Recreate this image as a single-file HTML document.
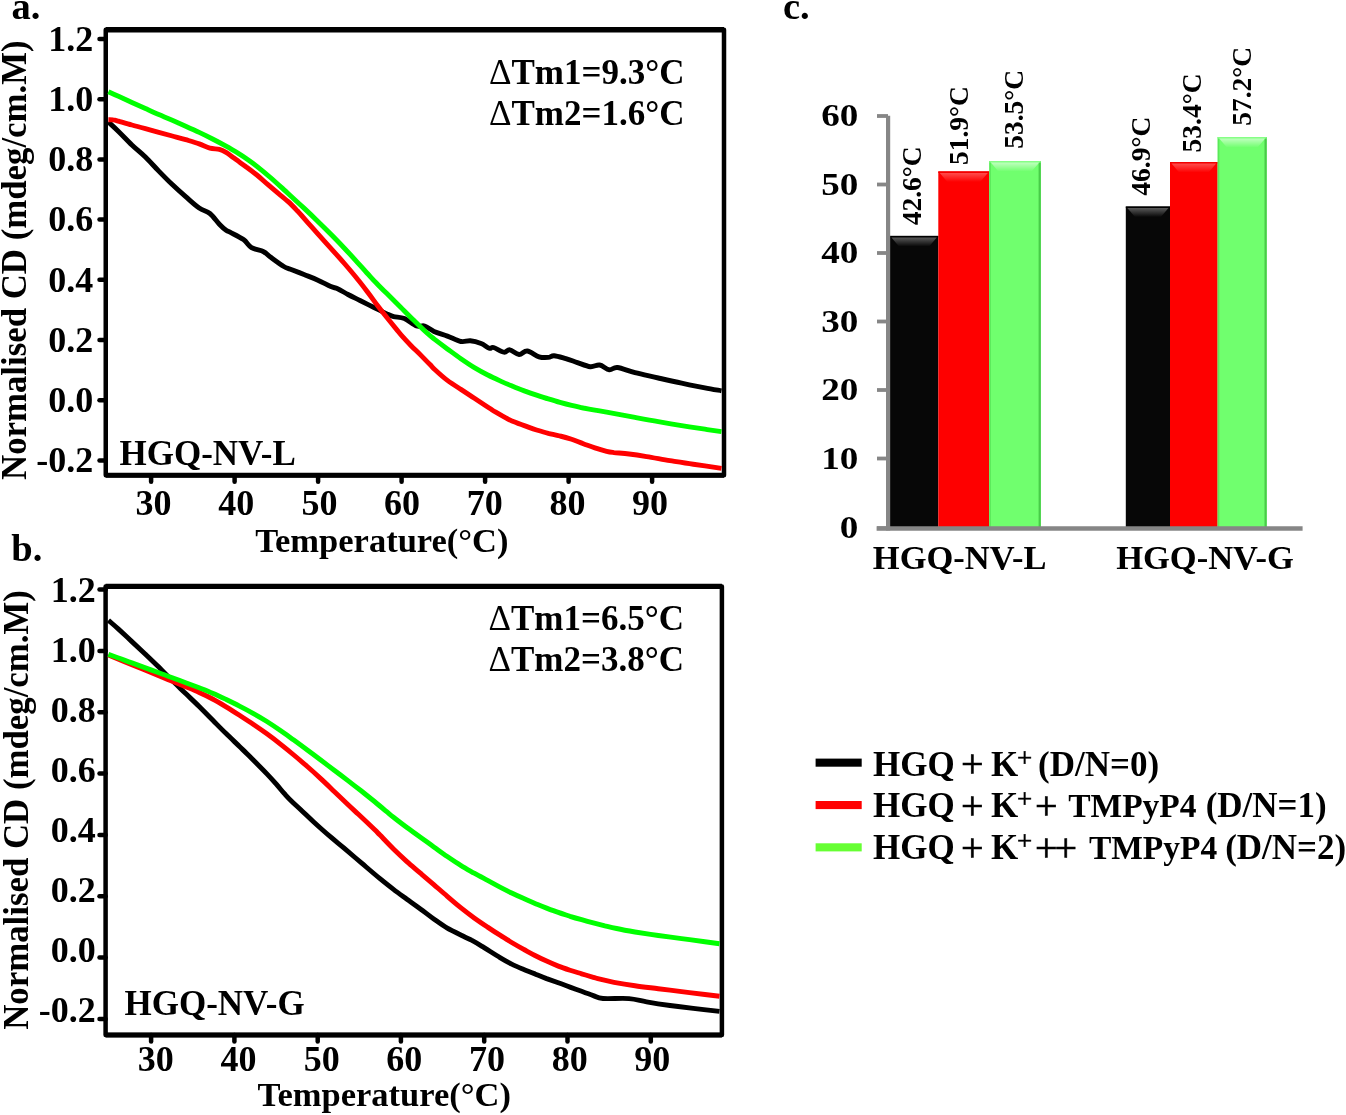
<!DOCTYPE html>
<html><head><meta charset="utf-8"><style>
html,body{margin:0;padding:0;background:#fff;}
svg{display:block;will-change:transform;}
</style></head><body>
<svg width="1346" height="1115" viewBox="0 0 1346 1115">
<rect x="0" y="0" width="1346" height="1115" fill="#fff"/>
<rect x="105.75" y="29.75" width="618.25" height="445.5" fill="none" stroke="#000" stroke-width="4.5" stroke-linejoin="round"/>
<line x1="105.75" y1="29.75" x2="724" y2="29.75" stroke="#000" stroke-width="5.3"/>
<line x1="105.75" y1="475.25" x2="724" y2="475.25" stroke="#000" stroke-width="5.0"/>
<line x1="99.5" y1="460.4" x2="105.75" y2="460.4" stroke="#000" stroke-width="4.5" stroke-linecap="round"/>
<text x="93.2" y="472.1" text-anchor="end" font-size="36" font-family="Liberation Serif" font-weight="bold">-0.2</text>
<line x1="99.5" y1="400.2" x2="105.75" y2="400.2" stroke="#000" stroke-width="4.5" stroke-linecap="round"/>
<text x="93.2" y="411.9" text-anchor="end" font-size="36" font-family="Liberation Serif" font-weight="bold">0.0</text>
<line x1="99.5" y1="340.0" x2="105.75" y2="340.0" stroke="#000" stroke-width="4.5" stroke-linecap="round"/>
<text x="93.2" y="351.7" text-anchor="end" font-size="36" font-family="Liberation Serif" font-weight="bold">0.2</text>
<line x1="99.5" y1="279.8" x2="105.75" y2="279.8" stroke="#000" stroke-width="4.5" stroke-linecap="round"/>
<text x="93.2" y="291.5" text-anchor="end" font-size="36" font-family="Liberation Serif" font-weight="bold">0.4</text>
<line x1="99.5" y1="219.6" x2="105.75" y2="219.6" stroke="#000" stroke-width="4.5" stroke-linecap="round"/>
<text x="93.2" y="231.3" text-anchor="end" font-size="36" font-family="Liberation Serif" font-weight="bold">0.6</text>
<line x1="99.5" y1="159.4" x2="105.75" y2="159.4" stroke="#000" stroke-width="4.5" stroke-linecap="round"/>
<text x="93.2" y="171.1" text-anchor="end" font-size="36" font-family="Liberation Serif" font-weight="bold">0.8</text>
<line x1="99.5" y1="99.2" x2="105.75" y2="99.2" stroke="#000" stroke-width="4.5" stroke-linecap="round"/>
<text x="93.2" y="110.9" text-anchor="end" font-size="36" font-family="Liberation Serif" font-weight="bold">1.0</text>
<line x1="99.5" y1="39.0" x2="105.75" y2="39.0" stroke="#000" stroke-width="4.5" stroke-linecap="round"/>
<text x="93.2" y="50.7" text-anchor="end" font-size="36" font-family="Liberation Serif" font-weight="bold">1.2</text>
<line x1="151.1" y1="475.25" x2="151.1" y2="481.75" stroke="#000" stroke-width="4.5" stroke-linecap="round"/>
<text x="153.5" y="515" text-anchor="middle" font-size="36" font-family="Liberation Serif" font-weight="bold">30</text>
<line x1="234.6" y1="475.25" x2="234.6" y2="481.75" stroke="#000" stroke-width="4.5" stroke-linecap="round"/>
<text x="236.2" y="515" text-anchor="middle" font-size="36" font-family="Liberation Serif" font-weight="bold">40</text>
<line x1="318.1" y1="475.25" x2="318.1" y2="481.75" stroke="#000" stroke-width="4.5" stroke-linecap="round"/>
<text x="319.4" y="515" text-anchor="middle" font-size="36" font-family="Liberation Serif" font-weight="bold">50</text>
<line x1="401.6" y1="475.25" x2="401.6" y2="481.75" stroke="#000" stroke-width="4.5" stroke-linecap="round"/>
<text x="402.0" y="515" text-anchor="middle" font-size="36" font-family="Liberation Serif" font-weight="bold">60</text>
<line x1="485.1" y1="475.25" x2="485.1" y2="481.75" stroke="#000" stroke-width="4.5" stroke-linecap="round"/>
<text x="484.7" y="515" text-anchor="middle" font-size="36" font-family="Liberation Serif" font-weight="bold">70</text>
<line x1="568.6" y1="475.25" x2="568.6" y2="481.75" stroke="#000" stroke-width="4.5" stroke-linecap="round"/>
<text x="567.4" y="515" text-anchor="middle" font-size="36" font-family="Liberation Serif" font-weight="bold">80</text>
<line x1="652.1" y1="475.25" x2="652.1" y2="481.75" stroke="#000" stroke-width="4.5" stroke-linecap="round"/>
<text x="650.0" y="515" text-anchor="middle" font-size="36" font-family="Liberation Serif" font-weight="bold">90</text>
<path d="M108.4,122.0 C110.1,123.6 114.6,127.6 118.5,131.4 C122.4,135.2 127.4,140.6 131.9,144.9 C136.4,149.2 140.9,152.6 145.4,157.0 C149.9,161.4 154.3,166.5 158.8,171.1 C163.3,175.7 167.8,180.3 172.3,184.6 C176.8,188.9 181.2,192.8 185.7,196.7 C190.2,200.6 195.2,205.3 199.2,208.1 C203.2,210.9 206.5,210.8 209.9,213.5 C213.3,216.2 216.7,221.4 219.4,224.2 C222.1,227.0 224.3,229.0 226.1,230.3 C227.9,231.6 227.1,230.6 230.0,232.2 C232.9,233.8 239.9,237.0 243.5,239.6 C247.1,242.2 248.2,245.6 251.5,247.6 C254.8,249.6 260.5,250.1 263.6,251.7 C266.8,253.3 267.0,254.5 270.4,257.0 C273.8,259.5 280.4,264.5 283.8,266.5 C287.2,268.5 287.1,267.9 290.5,269.2 C293.9,270.5 299.5,272.7 304.0,274.5 C308.5,276.3 312.9,277.9 317.4,279.9 C321.9,281.9 327.5,285.1 330.9,286.6 C334.3,288.1 334.8,287.4 337.6,288.7 C340.5,290.0 344.3,292.5 348.0,294.5 C351.7,296.5 355.8,298.4 360.0,300.5 C364.2,302.6 369.0,305.0 373.5,307.2 C378.0,309.4 383.5,312.3 386.9,313.9 C390.2,315.5 390.7,315.8 393.6,316.6 C396.5,317.4 400.6,317.0 404.4,318.6 C408.2,320.2 413.1,324.8 416.5,326.0 C419.9,327.2 421.7,325.1 424.6,326.0 C427.5,326.9 430.2,329.7 434.0,331.4 C437.8,333.1 442.9,334.4 447.4,336.1 C451.9,337.8 457.1,340.7 460.9,341.5 C464.7,342.3 466.9,340.5 470.3,340.8 C473.7,341.1 478.0,342.3 481.1,343.5 C484.2,344.7 487.1,347.5 489.2,348.2 C491.3,348.9 491.0,346.8 493.5,347.5 C496.0,348.2 501.3,351.8 504.0,352.2 C506.7,352.6 507.3,349.4 509.8,349.8 C512.3,350.2 516.2,354.3 519.1,354.5 C522.0,354.7 524.0,350.6 527.3,351.0 C530.6,351.4 535.5,355.7 539.0,356.8 C542.5,357.9 545.8,357.6 548.3,357.4 C550.8,357.2 551.2,355.5 554.1,355.7 C557.0,355.9 561.9,357.5 565.8,358.6 C569.7,359.8 573.3,361.2 577.4,362.6 C581.5,364.0 586.6,366.3 590.3,366.7 C594.0,367.1 596.4,364.5 599.6,365.0 C602.8,365.5 606.3,369.4 609.3,369.8 C612.3,370.2 613.2,367.0 617.5,367.5 C621.8,368.0 628.2,370.9 635.0,372.7 C641.8,374.4 650.5,376.2 658.3,378.0 C666.1,379.8 673.8,381.6 681.6,383.2 C689.4,384.8 698.2,386.6 704.9,387.9 C711.5,389.2 718.7,390.3 721.5,390.8" fill="none" stroke="#000" stroke-width="4.9" stroke-linejoin="round" stroke-linecap="butt"/>
<path d="M108.4,119.7 C109.2,119.7 111.4,119.6 113.1,119.9 C114.8,120.1 115.4,120.3 118.5,121.1 C121.6,122.0 127.4,123.8 131.9,125.0 C136.4,126.3 140.9,127.5 145.4,128.7 C149.9,130.0 154.3,131.2 158.8,132.4 C163.3,133.6 167.8,134.8 172.3,136.0 C176.8,137.2 181.2,138.3 185.7,139.6 C190.2,141.0 195.2,142.5 199.2,143.9 C203.2,145.4 206.5,147.3 209.9,148.2 C213.3,149.1 216.7,148.6 219.4,149.3 C222.1,150.0 223.9,151.0 226.1,152.3 C228.3,153.6 230.6,155.7 232.8,157.3 C235.0,158.9 237.2,160.4 239.5,162.1 C241.8,163.7 243.4,164.8 246.3,167.0 C249.2,169.1 253.3,172.1 256.9,175.0 C260.5,177.9 264.3,181.5 267.7,184.4 C271.1,187.3 273.7,189.5 277.1,192.4 C280.5,195.2 284.5,198.3 287.9,201.4 C291.3,204.4 293.9,207.2 297.3,210.8 C300.7,214.4 304.6,219.0 308.0,222.8 C311.4,226.6 313.6,229.1 317.4,233.4 C321.2,237.6 326.4,243.3 330.9,248.3 C335.4,253.3 339.9,258.3 344.4,263.5 C348.9,268.7 353.9,274.6 357.8,279.5 C361.8,284.3 364.8,288.4 368.1,292.8 C371.4,297.1 374.4,301.4 377.5,305.5 C380.6,309.6 383.8,313.7 386.9,317.6 C390.0,321.5 393.8,326.1 396.3,329.1 C398.8,332.1 399.2,332.8 401.7,335.6 C404.2,338.4 408.0,342.5 411.1,345.7 C414.2,348.9 417.4,351.7 420.5,354.9 C423.6,358.1 427.5,362.1 430.0,364.6 C432.5,367.1 432.4,367.4 435.3,370.0 C438.2,372.7 443.1,377.2 447.4,380.4 C451.7,383.6 456.4,386.5 460.9,389.4 C465.4,392.4 469.5,395.0 474.4,398.2 C479.2,401.4 486.4,406.2 490.0,408.5 C493.6,410.9 492.9,410.5 495.8,412.2 C498.7,413.9 504.6,417.3 507.5,418.8 C510.4,420.4 510.4,420.3 513.3,421.5 C516.2,422.7 521.1,424.5 525.0,425.9 C528.9,427.3 532.7,428.8 536.6,430.0 C540.5,431.2 544.4,432.4 548.3,433.4 C552.2,434.3 556.1,435.0 560.0,436.0 C563.9,436.9 567.7,438.0 571.6,439.3 C575.5,440.6 579.4,442.3 583.3,443.7 C587.2,445.1 591.0,446.6 594.9,447.9 C598.8,449.2 603.4,450.5 606.6,451.3 C609.8,452.1 610.2,452.1 614.0,452.6 C617.8,453.0 623.7,453.3 629.1,454.0 C634.5,454.7 639.8,455.5 646.6,456.6 C653.4,457.7 662.2,459.4 670.0,460.7 C677.8,461.9 684.7,463.0 693.3,464.2 C701.9,465.5 716.8,467.6 721.5,468.3" fill="none" stroke="#ff0000" stroke-width="4.9" stroke-linejoin="round" stroke-linecap="butt"/>
<path d="M108.4,91.7 C110.1,92.5 114.6,94.6 118.5,96.3 C122.4,98.1 127.4,100.4 131.9,102.5 C136.4,104.5 140.9,106.6 145.4,108.6 C149.9,110.6 154.3,112.6 158.8,114.5 C163.3,116.5 167.8,118.4 172.3,120.3 C176.8,122.3 181.2,124.2 185.7,126.2 C190.2,128.2 194.7,130.2 199.2,132.4 C203.7,134.5 208.1,136.7 212.6,139.0 C217.1,141.3 221.6,143.7 226.1,146.2 C230.6,148.7 235.9,151.9 239.5,154.1 C243.1,156.3 244.7,157.4 247.6,159.4 C250.5,161.4 253.1,163.3 256.9,166.3 C260.7,169.3 265.9,173.6 270.4,177.5 C274.9,181.4 280.4,186.5 283.8,189.6 C287.2,192.6 287.1,192.6 290.5,195.7 C293.9,198.8 299.5,204.0 304.0,208.1 C308.5,212.3 312.9,216.5 317.4,220.9 C321.9,225.2 326.4,229.7 330.9,234.3 C335.4,238.8 339.9,243.5 344.4,248.2 C348.9,253.0 354.1,258.7 357.8,262.8 C361.5,266.9 363.6,269.4 366.7,272.7 C369.8,276.0 372.7,279.3 376.1,282.8 C379.5,286.2 382.8,289.6 386.9,293.6 C390.9,297.6 395.9,302.5 400.4,306.9 C404.9,311.4 409.3,315.9 413.8,320.3 C418.3,324.7 423.9,330.2 427.3,333.3 C430.7,336.4 430.6,336.3 434.0,338.9 C437.4,341.5 442.9,345.6 447.4,348.9 C451.9,352.2 456.4,355.6 460.9,358.7 C465.4,361.8 469.9,364.9 474.4,367.6 C478.9,370.3 483.2,372.7 487.8,375.0 C492.4,377.3 497.4,379.6 501.7,381.6 C505.9,383.5 509.4,384.9 513.3,386.5 C517.2,388.1 521.1,389.6 525.0,391.1 C528.9,392.5 532.7,393.8 536.6,395.1 C540.5,396.4 544.4,397.7 548.3,398.9 C552.2,400.1 556.1,401.3 560.0,402.4 C563.9,403.5 567.7,404.5 571.6,405.4 C575.5,406.3 579.4,407.2 583.3,408.0 C587.2,408.7 591.0,409.4 594.9,410.1 C598.8,410.8 599.9,411.0 606.6,412.2 C613.3,413.4 626.4,415.8 635.0,417.4 C643.6,419.0 650.5,420.3 658.3,421.6 C666.1,423.0 673.8,424.3 681.6,425.6 C689.4,426.8 698.2,428.2 704.9,429.2 C711.5,430.2 718.7,431.2 721.5,431.6" fill="none" stroke="#00ff00" stroke-width="4.9" stroke-linejoin="round" stroke-linecap="butt"/>
<text x="489" y="83.6" font-size="35" font-family="Liberation Serif" font-weight="bold"><tspan font-weight="normal">&#916;</tspan>Tm1=9.3°C</text>
<text x="489" y="124.8" font-size="35" font-family="Liberation Serif" font-weight="bold"><tspan font-weight="normal">&#916;</tspan>Tm2=1.6°C</text>
<text x="119.5" y="464.8" font-size="35" font-family="Liberation Serif" font-weight="bold">HGQ-NV-L</text>
<text transform="translate(25.5,480) rotate(-90)" font-size="34.8" font-family="Liberation Serif" font-weight="bold">Normalised CD (mdeg/cm.M)</text>
<text x="255.2" y="551.5" font-size="34.5" font-family="Liberation Serif" font-weight="bold">Temperature(°C)</text>
<text x="11.5" y="18.9" font-size="38.5" font-family="Liberation Serif" font-weight="bold">a.</text>
<rect x="105.6" y="586.4" width="616.3" height="448.5000000000001" fill="none" stroke="#000" stroke-width="4.5" stroke-linejoin="round"/>
<line x1="105.6" y1="586.4" x2="721.9" y2="586.4" stroke="#000" stroke-width="5.3"/>
<line x1="105.6" y1="1034.9" x2="721.9" y2="1034.9" stroke="#000" stroke-width="5.0"/>
<line x1="99.5" y1="1018.9" x2="105.6" y2="1018.9" stroke="#000" stroke-width="4.5" stroke-linecap="round"/>
<text x="95.8" y="1022.2" text-anchor="end" font-size="36" font-family="Liberation Serif" font-weight="bold">-0.2</text>
<line x1="99.5" y1="957.6" x2="105.6" y2="957.6" stroke="#000" stroke-width="4.5" stroke-linecap="round"/>
<text x="95.8" y="962.2" text-anchor="end" font-size="36" font-family="Liberation Serif" font-weight="bold">0.0</text>
<line x1="99.5" y1="896.3" x2="105.6" y2="896.3" stroke="#000" stroke-width="4.5" stroke-linecap="round"/>
<text x="95.8" y="902.2" text-anchor="end" font-size="36" font-family="Liberation Serif" font-weight="bold">0.2</text>
<line x1="99.5" y1="834.9" x2="105.6" y2="834.9" stroke="#000" stroke-width="4.5" stroke-linecap="round"/>
<text x="95.8" y="842.2" text-anchor="end" font-size="36" font-family="Liberation Serif" font-weight="bold">0.4</text>
<line x1="99.5" y1="773.6" x2="105.6" y2="773.6" stroke="#000" stroke-width="4.5" stroke-linecap="round"/>
<text x="95.8" y="782.2" text-anchor="end" font-size="36" font-family="Liberation Serif" font-weight="bold">0.6</text>
<line x1="99.5" y1="712.2" x2="105.6" y2="712.2" stroke="#000" stroke-width="4.5" stroke-linecap="round"/>
<text x="95.8" y="722.2" text-anchor="end" font-size="36" font-family="Liberation Serif" font-weight="bold">0.8</text>
<line x1="99.5" y1="650.9" x2="105.6" y2="650.9" stroke="#000" stroke-width="4.5" stroke-linecap="round"/>
<text x="95.8" y="662.2" text-anchor="end" font-size="36" font-family="Liberation Serif" font-weight="bold">1.0</text>
<line x1="99.5" y1="589.6" x2="105.6" y2="589.6" stroke="#000" stroke-width="4.5" stroke-linecap="round"/>
<text x="95.8" y="602.2" text-anchor="end" font-size="36" font-family="Liberation Serif" font-weight="bold">1.2</text>
<line x1="151.1" y1="1034.9" x2="151.1" y2="1041.4" stroke="#000" stroke-width="4.5" stroke-linecap="round"/>
<text x="155.8" y="1070.8" text-anchor="middle" font-size="36" font-family="Liberation Serif" font-weight="bold">30</text>
<line x1="234.4" y1="1034.9" x2="234.4" y2="1041.4" stroke="#000" stroke-width="4.5" stroke-linecap="round"/>
<text x="238.5" y="1070.8" text-anchor="middle" font-size="36" font-family="Liberation Serif" font-weight="bold">40</text>
<line x1="317.7" y1="1034.9" x2="317.7" y2="1041.4" stroke="#000" stroke-width="4.5" stroke-linecap="round"/>
<text x="321.7" y="1070.8" text-anchor="middle" font-size="36" font-family="Liberation Serif" font-weight="bold">50</text>
<line x1="400.9" y1="1034.9" x2="400.9" y2="1041.4" stroke="#000" stroke-width="4.5" stroke-linecap="round"/>
<text x="404.3" y="1070.8" text-anchor="middle" font-size="36" font-family="Liberation Serif" font-weight="bold">60</text>
<line x1="484.2" y1="1034.9" x2="484.2" y2="1041.4" stroke="#000" stroke-width="4.5" stroke-linecap="round"/>
<text x="487.0" y="1070.8" text-anchor="middle" font-size="36" font-family="Liberation Serif" font-weight="bold">70</text>
<line x1="567.5" y1="1034.9" x2="567.5" y2="1041.4" stroke="#000" stroke-width="4.5" stroke-linecap="round"/>
<text x="569.7" y="1070.8" text-anchor="middle" font-size="36" font-family="Liberation Serif" font-weight="bold">80</text>
<line x1="650.8" y1="1034.9" x2="650.8" y2="1041.4" stroke="#000" stroke-width="4.5" stroke-linecap="round"/>
<text x="652.3" y="1070.8" text-anchor="middle" font-size="36" font-family="Liberation Serif" font-weight="bold">90</text>
<path d="M108.4,620.3 C110.1,621.8 114.6,625.6 118.5,629.1 C122.4,632.7 127.4,637.4 131.9,641.6 C136.4,645.8 140.9,650.0 145.4,654.2 C149.9,658.5 154.3,662.7 158.8,667.1 C163.3,671.6 167.8,676.2 172.3,680.6 C176.8,685.1 181.2,689.2 185.7,693.6 C190.2,697.9 194.7,702.1 199.2,706.5 C203.7,711.0 208.1,715.6 212.6,720.1 C217.1,724.6 221.6,729.3 226.1,733.6 C230.6,738.0 236.1,743.2 239.5,746.5 C242.9,749.8 244.4,751.2 246.7,753.5 C249.0,755.8 250.1,756.9 253.5,760.3 C256.9,763.7 263.1,769.9 266.9,773.9 C270.7,777.9 273.4,780.9 276.3,784.2 C279.2,787.5 281.9,790.9 284.4,793.7 C286.9,796.4 288.4,798.1 291.1,800.7 C293.8,803.4 296.7,805.9 300.5,809.5 C304.3,813.0 308.8,817.5 314.0,822.2 C319.2,827.0 326.5,833.4 331.5,837.7 C336.5,842.0 338.8,843.6 343.8,847.9 C348.8,852.1 355.7,858.1 361.7,863.2 C367.7,868.3 374.7,874.3 380.0,878.7 C385.3,883.0 389.0,886.0 393.5,889.4 C398.0,892.9 402.4,896.0 406.9,899.3 C411.4,902.5 415.9,905.6 420.4,908.9 C424.9,912.2 429.3,915.8 433.8,919.0 C438.3,922.2 442.4,925.3 447.3,928.2 C452.2,931.0 459.4,934.3 463.4,936.3 C467.4,938.3 468.5,938.5 471.5,940.2 C474.5,941.8 476.9,943.2 481.6,946.1 C486.4,949.0 495.0,954.6 500.0,957.6 C505.0,960.6 507.8,962.2 511.7,964.1 C515.6,966.1 519.4,967.6 523.3,969.2 C527.2,970.9 531.1,972.4 535.0,973.9 C538.9,975.5 542.7,977.1 546.6,978.6 C550.5,980.0 554.4,981.4 558.3,982.8 C562.2,984.2 566.1,985.6 570.0,987.1 C573.9,988.5 577.7,989.9 581.6,991.3 C585.5,992.8 589.7,994.4 593.3,995.6 C596.9,996.8 597.0,998.0 603.0,998.5 C609.0,999.0 621.8,998.0 629.1,998.6 C636.4,999.2 639.8,1000.7 646.6,1001.8 C653.4,1003.0 662.2,1004.4 670.0,1005.5 C677.8,1006.5 685.0,1007.4 693.3,1008.4 C701.5,1009.4 715.1,1010.9 719.5,1011.4" fill="none" stroke="#000" stroke-width="4.9" stroke-linejoin="round" stroke-linecap="butt"/>
<path d="M108.4,655.0 C112.3,656.6 123.5,661.2 131.9,664.7 C140.3,668.1 152.1,673.0 158.8,675.8 C165.5,678.5 167.8,679.5 172.3,681.3 C176.8,683.1 181.2,684.9 185.7,686.7 C190.2,688.6 194.7,690.4 199.2,692.5 C203.7,694.5 208.1,696.6 212.6,699.0 C217.1,701.4 221.6,704.1 226.1,706.8 C230.6,709.5 234.9,712.3 239.5,715.3 C244.1,718.3 248.9,721.4 253.5,724.5 C258.1,727.6 262.4,730.6 266.9,733.8 C271.4,737.1 275.9,740.5 280.4,744.1 C284.9,747.6 289.3,751.2 293.8,755.0 C298.3,758.7 302.8,762.6 307.3,766.5 C311.8,770.4 316.2,774.4 320.7,778.6 C325.2,782.7 329.7,787.1 334.2,791.4 C338.7,795.7 343.6,800.4 347.6,804.2 C351.6,808.0 353.9,810.1 358.4,814.3 C362.9,818.5 370.9,826.1 374.5,829.6 C378.1,833.0 376.8,831.9 380.0,835.1 C383.2,838.4 389.0,844.6 393.5,849.0 C398.0,853.4 402.4,857.5 406.9,861.6 C411.4,865.6 415.9,869.3 420.4,873.2 C424.9,877.0 429.3,880.7 433.8,884.6 C438.3,888.5 442.8,892.5 447.3,896.3 C451.8,900.2 456.2,904.0 460.7,907.6 C465.2,911.2 469.7,914.6 474.2,917.9 C478.7,921.1 483.3,924.2 487.6,927.1 C491.9,930.0 496.0,932.7 500.0,935.2 C504.0,937.8 507.8,940.1 511.7,942.5 C515.6,944.8 519.4,947.0 523.3,949.2 C527.2,951.3 531.1,953.5 535.0,955.5 C538.9,957.5 542.7,959.4 546.6,961.1 C550.5,962.9 554.4,964.6 558.3,966.1 C562.2,967.6 566.1,968.9 570.0,970.2 C573.9,971.5 577.7,972.6 581.6,973.8 C585.5,975.0 590.2,976.4 593.3,977.3 C596.4,978.2 596.5,978.4 600.0,979.2 C603.5,980.1 608.2,981.3 614.0,982.3 C619.8,983.4 627.6,984.7 635.0,985.7 C642.4,986.8 650.5,987.7 658.3,988.7 C666.1,989.7 673.8,990.6 681.6,991.6 C689.4,992.6 698.6,993.7 704.9,994.5 C711.2,995.3 717.1,996.0 719.5,996.3" fill="none" stroke="#ff0000" stroke-width="4.9" stroke-linejoin="round" stroke-linecap="butt"/>
<path d="M108.4,654.4 C110.1,655.0 114.6,656.6 118.5,658.0 C122.4,659.4 127.4,661.3 131.9,662.9 C136.4,664.6 140.9,666.2 145.4,667.9 C149.9,669.5 154.3,671.1 158.8,672.8 C163.3,674.4 167.8,676.1 172.3,677.8 C176.8,679.4 181.2,681.0 185.7,682.7 C190.2,684.4 194.7,686.1 199.2,687.8 C203.7,689.6 208.1,691.3 212.6,693.3 C217.1,695.2 221.6,697.3 226.1,699.4 C230.6,701.6 234.9,703.7 239.5,706.1 C244.1,708.4 248.9,711.0 253.5,713.6 C258.1,716.1 262.4,718.7 266.9,721.5 C271.4,724.4 275.9,727.4 280.4,730.5 C284.9,733.6 289.3,736.8 293.8,740.0 C298.3,743.3 302.8,746.6 307.3,750.0 C311.8,753.3 316.2,756.6 320.7,760.0 C325.2,763.4 329.7,766.8 334.2,770.2 C338.7,773.6 343.1,777.0 347.6,780.4 C352.1,783.9 356.6,787.3 361.1,790.8 C365.6,794.4 370.2,798.1 374.5,801.5 C378.8,805.0 383.5,809.0 386.7,811.7 C389.9,814.3 390.1,814.6 393.5,817.2 C396.9,819.9 402.4,824.1 406.9,827.5 C411.4,830.8 415.9,834.0 420.4,837.2 C424.9,840.4 429.3,843.7 433.8,846.9 C438.3,850.1 442.8,853.5 447.3,856.5 C451.8,859.6 456.2,862.6 460.7,865.3 C465.2,868.1 469.7,870.6 474.2,873.2 C478.7,875.7 483.3,878.1 487.6,880.4 C491.9,882.8 496.0,885.0 500.0,887.1 C504.0,889.2 507.8,891.1 511.7,893.0 C515.6,894.9 519.4,896.6 523.3,898.3 C527.2,900.1 531.1,901.7 535.0,903.4 C538.9,905.0 542.7,906.6 546.6,908.1 C550.5,909.6 554.4,911.1 558.3,912.4 C562.2,913.8 566.1,915.0 570.0,916.3 C573.9,917.5 577.7,918.6 581.6,919.7 C585.5,920.8 589.4,921.8 593.3,922.9 C597.2,923.9 601.0,924.9 604.9,925.9 C608.8,926.8 611.6,927.5 616.6,928.5 C621.6,929.6 628.0,930.8 635.0,932.0 C642.0,933.1 650.5,934.4 658.3,935.5 C666.1,936.6 673.8,937.6 681.6,938.6 C689.4,939.6 698.6,940.9 704.9,941.7 C711.2,942.6 717.1,943.5 719.5,943.8" fill="none" stroke="#00ff00" stroke-width="4.9" stroke-linejoin="round" stroke-linecap="butt"/>
<text x="488.5" y="630.2" font-size="35" font-family="Liberation Serif" font-weight="bold"><tspan font-weight="normal">&#916;</tspan>Tm1=6.5°C</text>
<text x="488.5" y="670.8" font-size="35" font-family="Liberation Serif" font-weight="bold"><tspan font-weight="normal">&#916;</tspan>Tm2=3.8°C</text>
<text x="124.5" y="1015.3" font-size="35" font-family="Liberation Serif" font-weight="bold">HGQ-NV-G</text>
<text transform="translate(28,1029.8) rotate(-90)" font-size="34.8" font-family="Liberation Serif" font-weight="bold">Normalised CD (mdeg/cm.M)</text>
<text x="257.6" y="1105.6" font-size="34.5" font-family="Liberation Serif" font-weight="bold">Temperature(°C)</text>
<text x="11.3" y="560.5" font-size="38.5" font-family="Liberation Serif" font-weight="bold">b.</text>
<defs>
<linearGradient id="bevK" x1="0" y1="0" x2="0" y2="1">
<stop offset="0" stop-color="#fff" stop-opacity="0.33"/>
<stop offset="1" stop-color="#fff" stop-opacity="0"/>
</linearGradient>
<linearGradient id="bevR" x1="0" y1="0" x2="0" y2="1">
<stop offset="0" stop-color="#fff" stop-opacity="0.30"/>
<stop offset="1" stop-color="#fff" stop-opacity="0"/>
</linearGradient>
<linearGradient id="bevG" x1="0" y1="0" x2="0" y2="1">
<stop offset="0" stop-color="#fff" stop-opacity="0.55"/>
<stop offset="1" stop-color="#fff" stop-opacity="0"/>
</linearGradient>
</defs>
<rect x="889.9" y="235.9" width="48.4" height="291.6" fill="#070707"/>
<rect x="889.9" y="235.9" width="48.4" height="1.6" fill="#000"/>
<polygon points="891.4,237.5 936.8,237.5 929.1,246.5 899.0,246.5" fill="url(#bevK)"/>
<rect x="938.3" y="171.4" width="51.0" height="356.1" fill="#fe0000"/>
<rect x="938.3" y="171.4" width="51.0" height="1.6" fill="#f20000"/>
<polygon points="939.8,173.0 987.8,173.0 980.1,182.0 947.4,182.0" fill="url(#bevR)"/>
<rect x="989.3" y="161.0" width="51.5" height="366.5" fill="#70ff6e"/>
<rect x="1038.6" y="161.0" width="2.2" height="366.5" fill="#48cc48"/>
<rect x="989.3" y="161.0" width="1.6" height="366.5" fill="#5ae85a"/>
<rect x="989.3" y="161.0" width="51.5" height="1.6" fill="#86ff86"/>
<polygon points="990.8,162.6 1039.3,162.6 1031.6,171.6 998.4,171.6" fill="url(#bevG)"/>
<rect x="1125.8" y="206.5" width="44.2" height="321.0" fill="#070707"/>
<rect x="1125.8" y="206.5" width="44.2" height="1.6" fill="#000"/>
<polygon points="1127.3,208.1 1168.5,208.1 1160.8,217.1 1135.0,217.1" fill="url(#bevK)"/>
<rect x="1170.0" y="162.0" width="47.7" height="365.5" fill="#fe0000"/>
<rect x="1170.0" y="162.0" width="47.7" height="1.6" fill="#f20000"/>
<polygon points="1171.5,163.6 1216.2,163.6 1208.5,172.6 1179.2,172.6" fill="url(#bevR)"/>
<rect x="1217.7" y="137.0" width="49.0" height="390.5" fill="#70ff6e"/>
<rect x="1264.5" y="137.0" width="2.2" height="390.5" fill="#48cc48"/>
<rect x="1217.7" y="137.0" width="1.6" height="390.5" fill="#5ae85a"/>
<rect x="1217.7" y="137.0" width="49.0" height="1.6" fill="#86ff86"/>
<polygon points="1219.2,138.6 1265.2,138.6 1257.5,147.6 1226.9,147.6" fill="url(#bevG)"/>
<line x1="888.1" y1="115.7" x2="888.1" y2="530.5" stroke="#868686" stroke-width="4.2"/>
<line x1="876.6" y1="528.5" x2="1302.6" y2="528.5" stroke="#868686" stroke-width="4.3"/>
<line x1="877" y1="528.2" x2="888" y2="528.2" stroke="#868686" stroke-width="3.8"/>
<text transform="translate(858.3,538.2) scale(1.16,1)" text-anchor="end" font-size="32" font-family="Liberation Serif" font-weight="bold">0</text>
<line x1="877" y1="458.5" x2="888" y2="458.5" stroke="#868686" stroke-width="3.8"/>
<text transform="translate(858.3,468.5) scale(1.16,1)" text-anchor="end" font-size="32" font-family="Liberation Serif" font-weight="bold">10</text>
<line x1="877" y1="390.0" x2="888" y2="390.0" stroke="#868686" stroke-width="3.8"/>
<text transform="translate(858.3,400.0) scale(1.16,1)" text-anchor="end" font-size="32" font-family="Liberation Serif" font-weight="bold">20</text>
<line x1="877" y1="321.5" x2="888" y2="321.5" stroke="#868686" stroke-width="3.8"/>
<text transform="translate(858.3,331.5) scale(1.16,1)" text-anchor="end" font-size="32" font-family="Liberation Serif" font-weight="bold">30</text>
<line x1="877" y1="253.0" x2="888" y2="253.0" stroke="#868686" stroke-width="3.8"/>
<text transform="translate(858.3,263.0) scale(1.16,1)" text-anchor="end" font-size="32" font-family="Liberation Serif" font-weight="bold">40</text>
<line x1="877" y1="184.5" x2="888" y2="184.5" stroke="#868686" stroke-width="3.8"/>
<text transform="translate(858.3,194.5) scale(1.16,1)" text-anchor="end" font-size="32" font-family="Liberation Serif" font-weight="bold">50</text>
<line x1="877" y1="116.0" x2="888" y2="116.0" stroke="#868686" stroke-width="3.8"/>
<text transform="translate(858.3,126.0) scale(1.16,1)" text-anchor="end" font-size="32" font-family="Liberation Serif" font-weight="bold">60</text>
<text transform="translate(920.8,225.3) rotate(-90) scale(1,1.03)" font-size="27.5" font-family="Liberation Serif" font-weight="bold">42.6°C</text>
<text transform="translate(967.5,165.0) rotate(-90) scale(1,1.03)" font-size="27.5" font-family="Liberation Serif" font-weight="bold">51.9°C</text>
<text transform="translate(1023.1,148.8) rotate(-90) scale(1,1.03)" font-size="27.5" font-family="Liberation Serif" font-weight="bold">53.5°C</text>
<text transform="translate(1150.0,195.7) rotate(-90) scale(1,1.03)" font-size="27.5" font-family="Liberation Serif" font-weight="bold">46.9°C</text>
<text transform="translate(1200.6,152.4) rotate(-90) scale(1,1.03)" font-size="27.5" font-family="Liberation Serif" font-weight="bold">53.4°C</text>
<text transform="translate(1250.6,125.8) rotate(-90) scale(1,1.03)" font-size="27.5" font-family="Liberation Serif" font-weight="bold">57.2°C</text>
<text x="872.8" y="568.5" font-size="34.5" font-family="Liberation Serif" font-weight="bold">HGQ-NV-L</text>
<text x="1116.2" y="568.5" font-size="34.5" font-family="Liberation Serif" font-weight="bold">HGQ-NV-G</text>
<text x="783" y="19" font-size="38.5" font-family="Liberation Serif" font-weight="bold">c.</text>
<rect x="815.6" y="758.6" width="46.1" height="8.1" fill="#000000"/>
<text x="873.1" y="775.7" font-size="35" font-family="Liberation Serif" font-weight="bold">HGQ</text>
<text x="960.9" y="777.4" font-size="40" font-family="Liberation Serif" stroke="#000" stroke-width="0.7">+</text>
<text x="991.1" y="775.7" font-size="35" font-family="Liberation Serif" font-weight="bold">K</text>
<text x="1017.1" y="766.7" font-size="27" font-family="Liberation Serif" stroke="#000" stroke-width="0.5">+</text>
<text x="1038.1" y="775.7" font-size="35" font-family="Liberation Serif" font-weight="bold">(D/N=0)</text>
<rect x="815.6" y="801.0" width="46.1" height="8.1" fill="#ff0000"/>
<text x="873.1" y="817.3" font-size="35" font-family="Liberation Serif" font-weight="bold">HGQ</text>
<text x="960.9" y="819.0" font-size="40" font-family="Liberation Serif" stroke="#000" stroke-width="0.7">+</text>
<text x="991.1" y="817.3" font-size="35" font-family="Liberation Serif" font-weight="bold">K</text>
<text x="1017.1" y="808.3" font-size="27" font-family="Liberation Serif" stroke="#000" stroke-width="0.5">+</text>
<text x="1035" y="819.0" font-size="40" font-family="Liberation Serif" stroke="#000" stroke-width="0.7">+</text>
<text x="1068.2" y="817.3" font-size="33.5" font-family="Liberation Serif" font-weight="bold">TMPyP4</text>
<text x="1205.7" y="817.3" font-size="35" font-family="Liberation Serif" font-weight="bold">(D/N=1)</text>
<rect x="815.6" y="843.3" width="46.1" height="8.1" fill="#66ff33"/>
<text x="873.1" y="858.9" font-size="35" font-family="Liberation Serif" font-weight="bold">HGQ</text>
<text x="960.9" y="860.6" font-size="40" font-family="Liberation Serif" stroke="#000" stroke-width="0.7">+</text>
<text x="991.1" y="858.9" font-size="35" font-family="Liberation Serif" font-weight="bold">K</text>
<text x="1017.1" y="849.9" font-size="27" font-family="Liberation Serif" stroke="#000" stroke-width="0.5">+</text>
<text x="1035" y="860.6" font-size="40" font-family="Liberation Serif" stroke="#000" stroke-width="0.7">+</text>
<text x="1054.6" y="860.6" font-size="40" font-family="Liberation Serif" stroke="#000" stroke-width="0.7">+</text>
<text x="1088.9" y="858.9" font-size="33.5" font-family="Liberation Serif" font-weight="bold">TMPyP4</text>
<text x="1225.2" y="858.9" font-size="35" font-family="Liberation Serif" font-weight="bold">(D/N=2)</text>
</svg>
</body></html>
